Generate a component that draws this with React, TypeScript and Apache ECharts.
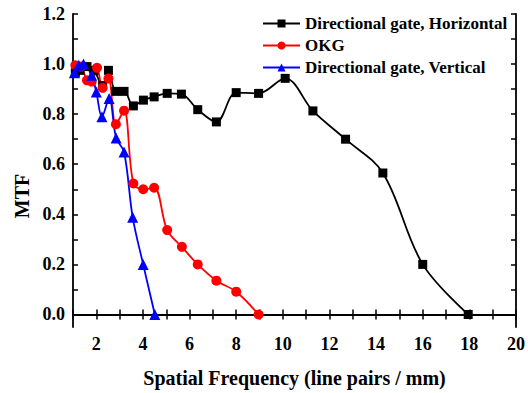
import React, { useEffect, useRef } from "react";
import * as echarts from "echarts";

const horizX = [1.1, 1.3, 1.6, 1.9, 2.27, 2.52, 2.84, 3.19, 3.59, 4.02, 4.48, 5.04, 5.65, 6.35, 7.15, 8.0, 8.96, 10.1, 11.29, 12.69, 14.29, 16.0, 17.95];
const horizY = [0.965, 0.975, 0.99, 0.975, 0.914, 0.975, 0.891, 0.891, 0.833, 0.856, 0.869, 0.883, 0.88, 0.818, 0.769, 0.886, 0.883, 0.943, 0.813, 0.70, 0.565, 0.2, 0.0];

const okgX = [1.1, 1.35, 1.6, 1.8, 2.03, 2.27, 2.52, 2.84, 3.19, 3.59, 4.01, 4.48, 5.04, 5.67, 6.35, 7.15, 8.0, 8.96];
const okgY = [0.995, 0.99, 0.935, 0.93, 0.985, 0.905, 0.942, 0.76, 0.814, 0.523, 0.50, 0.506, 0.337, 0.27, 0.2, 0.135, 0.091, 0.0];

const vertX = [1.06, 1.25, 1.45, 1.8, 2.0, 2.24, 2.55, 2.85, 3.19, 3.56, 4.01, 4.51];
const vertY = [0.965, 0.995, 1.0, 0.955, 0.888, 0.79, 0.863, 0.705, 0.649, 0.388, 0.2, 0.0];

const xLabels = [2, 4, 6, 8, 10, 12, 14, 16, 18, 20];
const xTicks = [1, 2, 3, 4, 5, 6, 7, 8, 9, 10, 11, 12, 13, 14, 15, 16, 17, 18, 19, 20];
const yLabels = [0, 0.2, 0.4, 0.6, 0.8, 1.0, 1.2];
const yTicks = [0, 0.1, 0.2, 0.3, 0.4, 0.5, 0.6, 0.7, 0.8, 0.9, 1.0, 1.1, 1.2];

const seriesNames = ["Directional gate, Horizontal", "OKG", "Directional gate, Vertical"];

const FONT = "'Liberation Serif', 'Times New Roman', serif";

const zip = (xs: number[], ys: number[]) => xs.map((x, i) => [x, ys[i]]);

export default function App() {
  const ref = useRef<HTMLDivElement>(null);
  useEffect(() => {
    if (!ref.current) return;
    const chart = echarts.init(ref.current, undefined, { renderer: "svg" });
    const axisLine = { show: true, lineStyle: { color: "#000", width: 1.8 } };
    const baseX = {
      type: "value" as const,
      min: 1,
      max: 20,
      splitLine: { show: false },
      axisLine,
      axisTick: { show: true, inside: true, length: 5, customValues: xTicks, lineStyle: { color: "#000", width: 1.5 } },
    };
    const baseY = {
      type: "value" as const,
      min: -0.05,
      max: 1.2,
      splitLine: { show: false },
      axisLine,
      axisTick: { show: true, inside: true, length: 5, customValues: yTicks, lineStyle: { color: "#000", width: 1.5 } },
    };
    chart.setOption({
      animation: false,
      backgroundColor: "#fff",
      grid: { left: 73, right: 10, top: 14, bottom: 54, containLabel: false },
      legend: {
        orient: "vertical",
        left: 257,
        top: 10,
        itemWidth: 37,
        itemHeight: 10,
        itemGap: 5,
        data: seriesNames,
        textStyle: { fontFamily: FONT, fontWeight: "bold", fontSize: 17, color: "#000" },
      },
      xAxis: [
        {
          ...baseX,
          position: "bottom",
          name: "Spatial Frequency (line pairs / mm)",
          nameLocation: "middle",
          nameGap: 41,
          nameTextStyle: { fontFamily: FONT, fontWeight: "bold", fontSize: 20, color: "#000" },
          axisLabel: {
            show: true,
            customValues: xLabels,
            margin: 8,
            showMaxLabel: true,
            fontFamily: FONT,
            fontWeight: "bold",
            fontSize: 18,
            color: "#000",
          },
        },
        { ...baseX, position: "top", axisLabel: { show: false } },
      ],
      yAxis: [
        {
          ...baseY,
          position: "left",
          axisLabel: {
            show: true,
            customValues: yLabels,
            margin: 8,
            formatter: (v: number) => v.toFixed(1),
            fontFamily: FONT,
            fontWeight: "bold",
            fontSize: 18,
            color: "#000",
          },
        },
        { ...baseY, position: "right", axisLabel: { show: false } },
      ],
      graphic: [
        {
          type: "text",
          x: 22,
          y: 196,
          rotation: Math.PI / 2,
          style: {
            text: "MTF",
            fontFamily: FONT,
            fontWeight: "bold",
            fontSize: 20,
            fill: "#000",
            align: "center",
            verticalAlign: "middle",
          },
        },
      ],
      series: [
        {
          name: seriesNames[0],
          type: "line",
          smooth: 0.35,
          data: zip(horizX, horizY),
          symbol: "rect",
          symbolSize: 9,
          itemStyle: { color: "#000" },
          lineStyle: { color: "#000", width: 1.8 },
        },
        {
          name: seriesNames[1],
          type: "line",
          smooth: 0.35,
          data: zip(okgX, okgY),
          symbol: "circle",
          symbolSize: 10,
          itemStyle: { color: "#ff0000" },
          lineStyle: { color: "#ff0000", width: 1.8 },
        },
        {
          name: seriesNames[2],
          type: "line",
          smooth: 0.35,
          data: zip(vertX, vertY),
          symbol: "triangle",
          symbolSize: 11,
          itemStyle: { color: "#0000ff" },
          lineStyle: { color: "#0000ff", width: 1.8 },
        },
      ],
    });
    return () => chart.dispose();
  }, []);
  return <div ref={ref} style={{ width: 528, height: 393, position: "absolute", left: 0, top: 0 }} />;
}
